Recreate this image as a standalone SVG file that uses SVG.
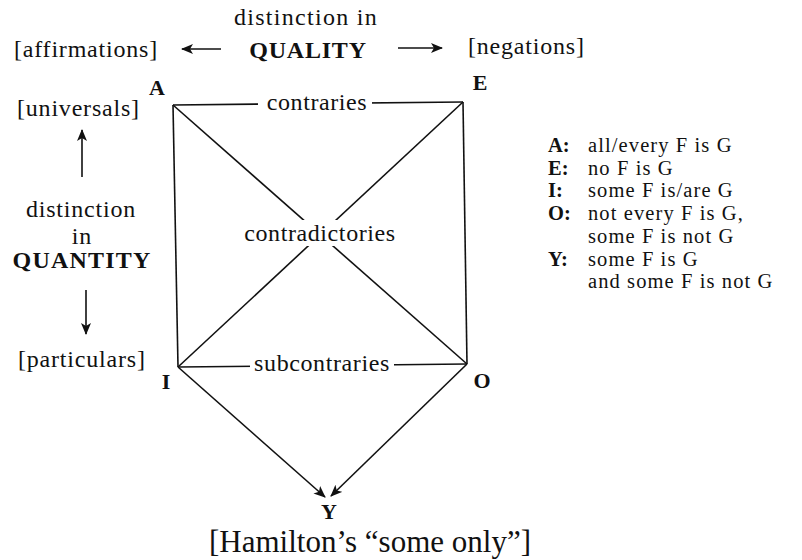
<svg xmlns="http://www.w3.org/2000/svg" width="802" height="560" viewBox="0 0 802 560">
<style>
  text { font-family: "Liberation Serif", "Times New Roman", serif; fill: #111; }
  .lbl { font-size: 24px; letter-spacing: 0.8px; }
  .big { font-size: 24px; font-weight: bold; letter-spacing: 0.8px; }
  .node { font-size: 22px; font-weight: bold; text-anchor: middle; }
  .edge { font-size: 24px; letter-spacing: 0.6px; text-anchor: middle; }
  .leg { font-size: 20.5px; letter-spacing: 1.1px; }
  .legb { font-size: 20.5px; font-weight: bold; }
  .ln { stroke: #111; stroke-width: 1.6; fill: none; }
  .mid { text-anchor: middle; }
</style>
<defs>
  <marker id="ah" viewBox="0 0 12 10" refX="11" refY="5" markerWidth="12" markerHeight="10" markerUnits="userSpaceOnUse" orient="auto">
    <path d="M0,0 L12,5 L0,10 L3,5 Z" fill="#111"/>
  </marker>
</defs>
<rect width="802" height="560" fill="#fff"/>

<g id="connectors">
  <line class="ln" x1="173" y1="105" x2="463" y2="102"/>
  <line class="ln" x1="178" y1="367" x2="467" y2="364"/>
  <line class="ln" x1="173" y1="105" x2="178" y2="367"/>
  <line class="ln" x1="463" y1="102" x2="467" y2="364"/>
  <line class="ln" x1="173" y1="105" x2="467" y2="364"/>
  <line class="ln" x1="463" y1="102" x2="178" y2="367"/>
  <line class="ln" x1="178" y1="367" x2="325" y2="497" marker-end="url(#ah)"/>
  <line class="ln" x1="467" y1="364" x2="331" y2="496" marker-end="url(#ah)"/>
  <rect x="258" y="90" width="114" height="26" fill="#fff"/>
  <text class="edge" x="317" y="110">contraries</text>
  <rect x="242" y="220" width="156" height="26" fill="#fff"/>
  <text class="edge" x="320" y="241">contradictories</text>
  <rect x="250" y="352" width="144" height="24" fill="#fff"/>
  <text class="edge" x="322" y="371">subcontraries</text>
</g>

<g id="quality">
  <text class="lbl mid" x="306" y="25" style="letter-spacing:1.3px">distinction in</text>
  <text class="big mid" x="308" y="58">QUALITY</text>
  <line class="ln" x1="221" y1="49" x2="182" y2="49" marker-end="url(#ah)"/>
  <line class="ln" x1="398" y1="48" x2="442" y2="48" marker-end="url(#ah)"/>
  <text class="lbl" x="14" y="57">[affirmations]</text>
  <text class="lbl" x="468" y="54">[negations]</text>
</g>

<g id="quantity">
  <text class="lbl" x="17" y="116">[universals]</text>
  <line class="ln" x1="82" y1="177" x2="82" y2="130" marker-end="url(#ah)"/>
  <text class="lbl mid" x="81" y="217">distinction</text>
  <text class="lbl mid" x="82" y="244">in</text>
  <text class="big mid" x="82" y="268" style="letter-spacing:1.2px">QUANTITY</text>
  <line class="ln" x1="86" y1="290" x2="86" y2="334" marker-end="url(#ah)"/>
  <text class="lbl" x="18" y="367">[particulars]</text>
</g>

<g id="node-A"><text class="node" x="157" y="95">A</text></g>
<g id="node-E"><text class="node" x="480" y="90">E</text></g>
<g id="node-I"><text class="node" x="166" y="389">I</text></g>
<g id="node-O"><text class="node" x="482" y="388">O</text></g>
<g id="node-Y"><text class="node" x="329" y="519">Y</text></g>

<g id="caption">
  <text class="mid" x="370" y="552" style="font-size:31px">[Hamilton’s “some only”]</text>
</g>

<g id="legend">
  <text class="legb" x="548" y="152">A:</text><text class="leg" x="588" y="152">all/every F is G</text>
  <text class="legb" x="548" y="174.7">E:</text><text class="leg" x="588" y="174.7">no F is G</text>
  <text class="legb" x="548" y="197.4">I:</text><text class="leg" x="588" y="197.4">some F is/are G</text>
  <text class="legb" x="548" y="220.1">O:</text><text class="leg" x="588" y="220.1">not every F is G,</text>
  <text class="leg" x="588" y="242.8">some F is not G</text>
  <text class="legb" x="548" y="265.5">Y:</text><text class="leg" x="588" y="265.5">some F is G</text>
  <text class="leg" x="588" y="288.2">and some F is not G</text>
</g>
</svg>
